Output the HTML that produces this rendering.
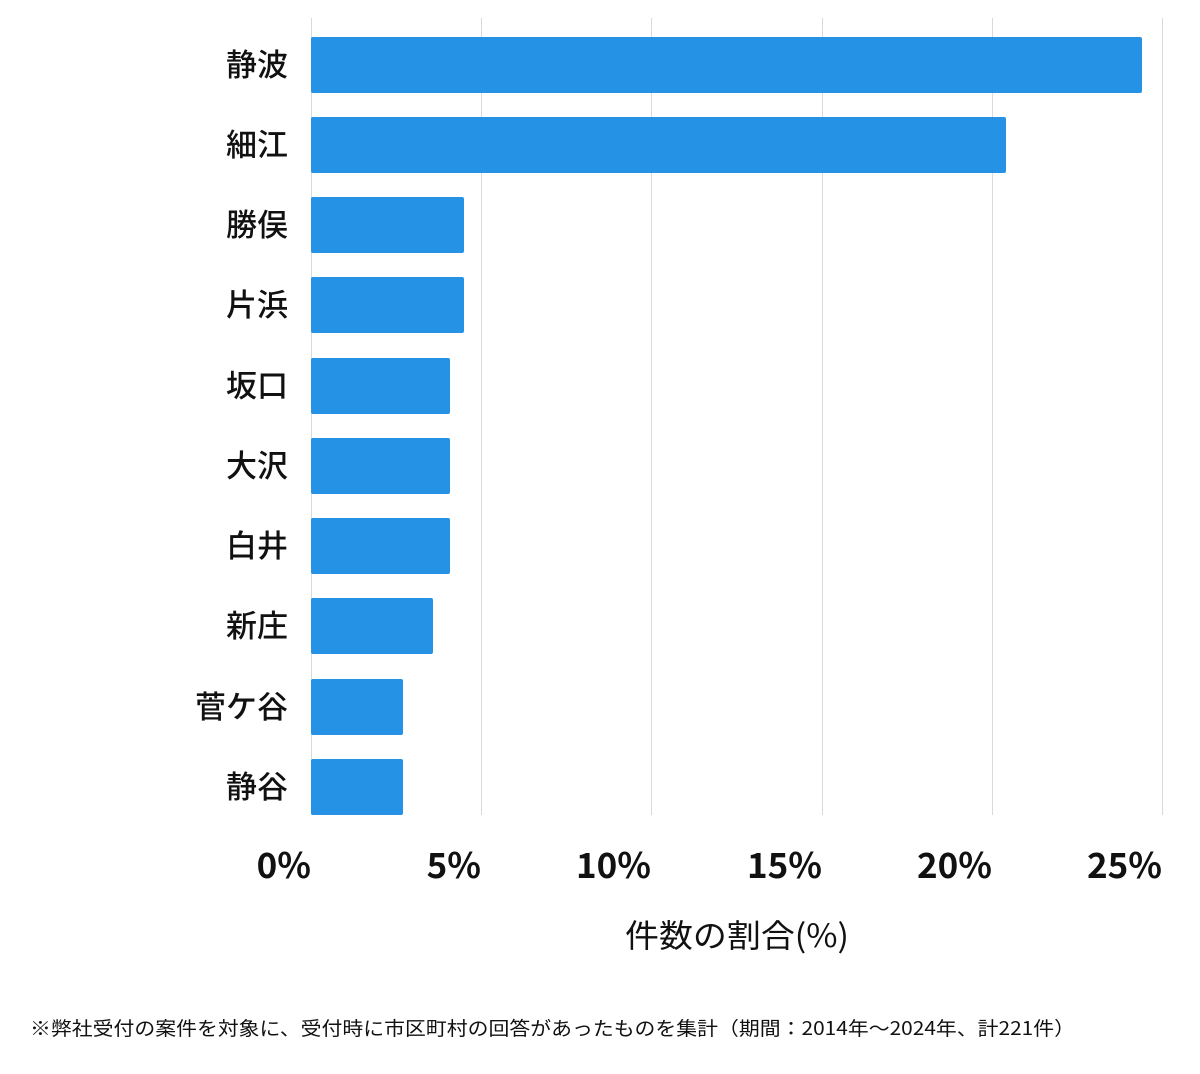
<!DOCTYPE html>
<html><head><meta charset="utf-8"><style>
body{margin:0;width:1200px;height:1069px;background:#fff;overflow:hidden}
text{font-family:"Noto Sans CJK JP","Liberation Sans",sans-serif}
</style></head><body>
<svg width="1200" height="1069" xmlns="http://www.w3.org/2000/svg">
<g stroke="#d9d9d9" stroke-width="1">
<line x1="311.5" y1="18" x2="311.5" y2="815"/>
<line x1="481.5" y1="18" x2="481.5" y2="815"/>
<line x1="651.5" y1="18" x2="651.5" y2="815"/>
<line x1="822.5" y1="18" x2="822.5" y2="815"/>
<line x1="992.5" y1="18" x2="992.5" y2="815"/>
<line x1="1162.5" y1="18" x2="1162.5" y2="815"/>
</g>
<g fill="#2592e6">
<rect x="311" y="37" width="831" height="56" rx="2"/>
<rect x="311" y="117" width="695" height="56" rx="2"/>
<rect x="311" y="197" width="153" height="56" rx="2"/>
<rect x="311" y="277" width="153" height="56" rx="2"/>
<rect x="311" y="358" width="139" height="56" rx="2"/>
<rect x="311" y="438" width="139" height="56" rx="2"/>
<rect x="311" y="518" width="139" height="56" rx="2"/>
<rect x="311" y="598" width="122" height="56" rx="2"/>
<rect x="311" y="679" width="92" height="56" rx="2"/>
<rect x="311" y="759" width="92" height="56" rx="2"/>
</g>
<g font-size="31" font-weight="500" text-anchor="end" fill="#111">
<text x="288" y="76">静波</text>
<text x="288" y="156">細江</text>
<text x="288" y="236">勝俣</text>
<text x="288" y="316">片浜</text>
<text x="288" y="397">坂口</text>
<text x="288" y="477">大沢</text>
<text x="288" y="557">白井</text>
<text x="288" y="637">新庄</text>
<text x="288" y="718">菅ケ谷</text>
<text x="288" y="798">静谷</text>
</g>
<g font-size="35" font-weight="bold" text-anchor="end" fill="#111">
<text x="311" y="878">0%</text>
<text x="481" y="878">5%</text>
<text x="651" y="878">10%</text>
<text x="822" y="878">15%</text>
<text x="992" y="878">20%</text>
<text x="1162" y="878">25%</text>
</g>
<text x="625" y="947" font-size="32" textLength="224" lengthAdjust="spacingAndGlyphs" fill="#111">件数の割合(%)</text>
<text x="30" y="1035" font-size="19" textLength="1045" lengthAdjust="spacingAndGlyphs" fill="#111">※弊社受付の案件を対象に、受付時に市区町村の回答があったものを集計（期間：2014年～2024年、計221件）</text>
</svg>
</body></html>
